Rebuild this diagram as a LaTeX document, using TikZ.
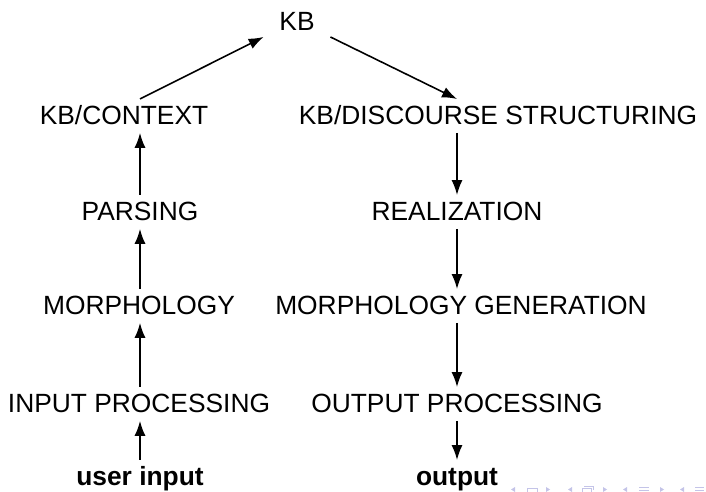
\documentclass[tikz,border=0pt]{standalone}
\usepackage{fontspec}
\setmainfont{Liberation Sans}
\usetikzlibrary{arrows.meta}
\definecolor{navc}{RGB}{196,196,232}
\begin{document}
\begin{tikzpicture}[x=0.02cm,y=-0.02cm,
  lbl/.style={anchor=base,inner sep=0pt,outer xsep=0pt,outer ysep=4.5pt,
    text height=10.3pt,text depth=0pt,font=\fontsize{15}{18}\selectfont},
  blbl/.style={lbl,font=\fontsize{15}{18}\selectfont\bfseries},
  kbstyle/.style={lbl,inner xsep=9pt,outer ysep=3.4pt},
  arr/.style={-{Latex[length=8.5pt,width=6.3pt]},line width=0.9pt},
  nav/.style={navc,line width=0.5pt}]
\useasboundingbox (0,0) rectangle (706,492);
\coordinate (lc) at (140,0);
\coordinate (rc) at (457,0);
\node[kbstyle] (kb) at (297,31) {KB};
\node[lbl] (ctx) at (124,125) {KB/CONTEXT};
\node[lbl] (dis) at (498,125) {KB/DISCOURSE STRUCTURING};
\node[lbl] (par) at (140,221) {PARSING};
\node[lbl] (rea) at (457,221) {REALIZATION};
\node[lbl] (mor) at (139,315) {MORPHOLOGY};
\node[lbl] (mge) at (461,315) {MORPHOLOGY GENERATION};
\node[lbl] (inp) at (139,413) {INPUT PROCESSING};
\node[lbl] (out) at (457,413) {OUTPUT PROCESSING};
\node[blbl] (uin) at (140,486) {user input};
\node[blbl] (opt) at (457,486) {output};
% left column (upwards)
\draw[arr] (uin.north -| lc) -- (inp.south -| lc);
\draw[arr] (inp.north -| lc) -- (mor.south -| lc);
\draw[arr] (mor.north -| lc) -- (par.south -| lc);
\draw[arr] (par.north -| lc) -- (ctx.south -| lc);
\draw[arr] (ctx.north -| lc) -- (kb.south west);
% right column (downwards)
\draw[arr] (kb.south east) -- (dis.north -| rc);
\draw[arr] (dis.south -| rc) -- (rea.north -| rc);
\draw[arr] (rea.south -| rc) -- (mge.north -| rc);
\draw[arr] (mge.south -| rc) -- (out.north -| rc);
\draw[arr] (out.south -| rc) -- (opt.north -| rc);
% navigation symbols
\fill[navc] (515,487) -- (511,489.5) -- (515,492) -- cycle;
\draw[nav] (527,488.5) rectangle (537,492);
\fill[navc] (546,487) -- (550,489.5) -- (546,492) -- cycle;
\fill[navc] (572,487) -- (568,489.5) -- (572,492) -- cycle;
\draw[nav] (582,488.5) rectangle (591,492);
\draw[nav] (584,486.5) -- (593,486.5) -- (593,490);
\fill[navc] (603,487) -- (607,489.5) -- (603,492) -- cycle;
\fill[navc] (627,487) -- (623,489.5) -- (627,492) -- cycle;
\draw[nav] (639,487.5) -- (649,487.5) (639,490) -- (649,490) (639,492) -- (649,492);
\fill[navc] (660,487) -- (664,489.5) -- (660,492) -- cycle;
\fill[navc] (684,487) -- (680,489.5) -- (684,492) -- cycle;
\draw[nav] (695,487.5) -- (704,487.5) (695,490) -- (704,490) (695,492) -- (704,492);
\end{tikzpicture}
\end{document}
